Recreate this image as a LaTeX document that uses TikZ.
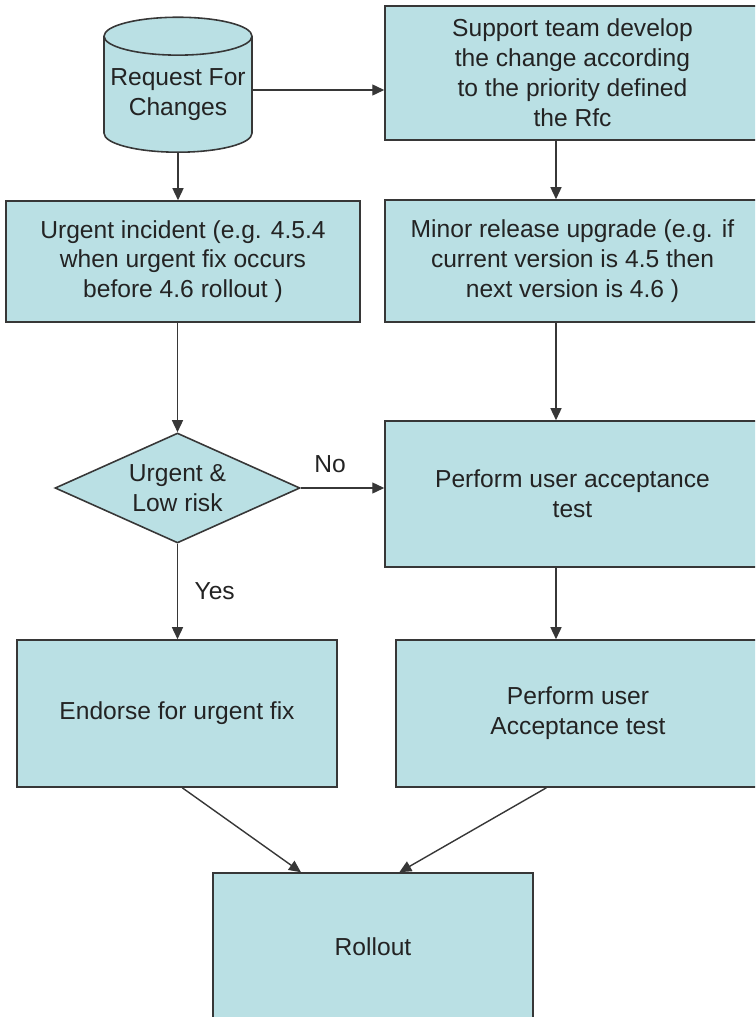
\documentclass[tikz,border=0pt]{standalone}
\usepackage{fontspec}
\setmainfont{Liberation Sans}
\usepackage{tikz}
\usetikzlibrary{shapes.geometric, arrows.meta, positioning, calc}
\definecolor{boxfill}{RGB}{186,224,228}
\definecolor{boxline}{RGB}{55,55,55}
\definecolor{txtdark}{RGB}{35,35,35}
\tikzset{
  flowbox/.style={rectangle, draw=boxline, fill=boxfill, align=center,
    text=txtdark, inner sep=0pt, line width=0.9pt,
    font=\fontsize{14}{17}\selectfont},
  rfcstore/.style={cylinder, shape border rotate=90, aspect=0.28,
    draw=boxline, fill=boxfill, align=center, text=txtdark,
    inner sep=0pt, line width=0.9pt, font=\fontsize{14}{17}\selectfont},
  decide/.style={diamond, draw=boxline, fill=boxfill, align=center,
    text=txtdark, inner sep=0pt, aspect=2.2, line width=0.9pt,
    font=\fontsize{14}{17}\selectfont},
  arrow/.style={-{Triangle[length=2.4mm, width=2.2mm]}, line width=0.8pt, color=boxline},
  line/.style={line width=0.8pt, color=boxline},
  edgelabel/.style={text=txtdark, font=\fontsize{14}{17}\selectfont}
}
\begin{document}
\begin{tikzpicture}[x=0.02cm, y=-0.02cm]
  \useasboundingbox (0,0) rectangle (755,1017);
  \clip (0,0) rectangle (755,1017);

  % Top row
  \node[rfcstore, minimum width=2.96cm, minimum height=2.7cm, anchor=south] (rfc) at (178,153)
    {Request For\\Changes};
  \node[flowbox, minimum width=7.5cm, minimum height=2.68cm] (support) at (572.5,73)
    {Support team develop\\the change according\\to the priority defined\\the Rfc};

  % Second row
  \node[flowbox, minimum width=7.08cm, minimum height=2.42cm] (urgent) at (183,261.5)
    {Urgent incident (e.g. 4.5.4\\when urgent fix occurs\\before 4.6 rollout )};
  \node[flowbox, minimum width=7.5cm, minimum height=2.44cm] (minor) at (572.5,261)
    {Minor release upgrade (e.g. if\\current version is 4.5 then\\next version is 4.6 )};

  % Third row
  \node[decide, minimum width=4.9cm, minimum height=2.2cm] (risk) at (177.5,488)
    {Urgent \&\\Low risk};
  \node[flowbox, minimum width=7.5cm, minimum height=2.92cm] (uatone) at (572.5,494)
    {Perform user acceptance\\test};

  % Fourth row
  \node[flowbox, minimum width=6.4cm, minimum height=2.94cm] (endorse) at (177,713.5)
    {Endorse for urgent fix};
  \node[flowbox, minimum width=7.28cm, minimum height=2.94cm] (uattwo) at (578,713.5)
    {Perform user\\Acceptance test};

  % Last row
  \node[flowbox, minimum width=6.4cm, minimum height=2.96cm] (rollout) at (373,947)
    {Rollout};

  % Connectors
  \coordinate (rcol) at (556,0);
  \coordinate (rfcout) at (252,90);
  \draw[arrow] (rfcout) -- (rfcout -| support.west);
  \draw[arrow] (rfc.south) -- (urgent.north -| rfc.south);
  \draw[arrow] (support.south -| rcol) -- (minor.north -| rcol);
  \draw[arrow] (minor.south -| rcol) -- (uatone.north -| rcol);
  \draw[arrow] (uatone.south -| rcol) -- (uattwo.north -| rcol);
  \draw[arrow] (urgent.south -| risk.north) -- (risk.north);
  \draw[arrow] (risk.east) -- (risk.east -| uatone.west)
    node[edgelabel, pos=0.35, above=5pt] {No};
  \draw[arrow] (risk.south) -- (endorse.north -| risk.south)
    node[edgelabel, pos=0.5, right=6pt] {Yes};
  \draw[arrow] ([xshift=3]endorse.south) -- ([xshift=-41]rollout.north);
  \draw[arrow] ([xshift=-18]uattwo.south) -- ([xshift=15]rollout.north);
\end{tikzpicture}
\end{document}
